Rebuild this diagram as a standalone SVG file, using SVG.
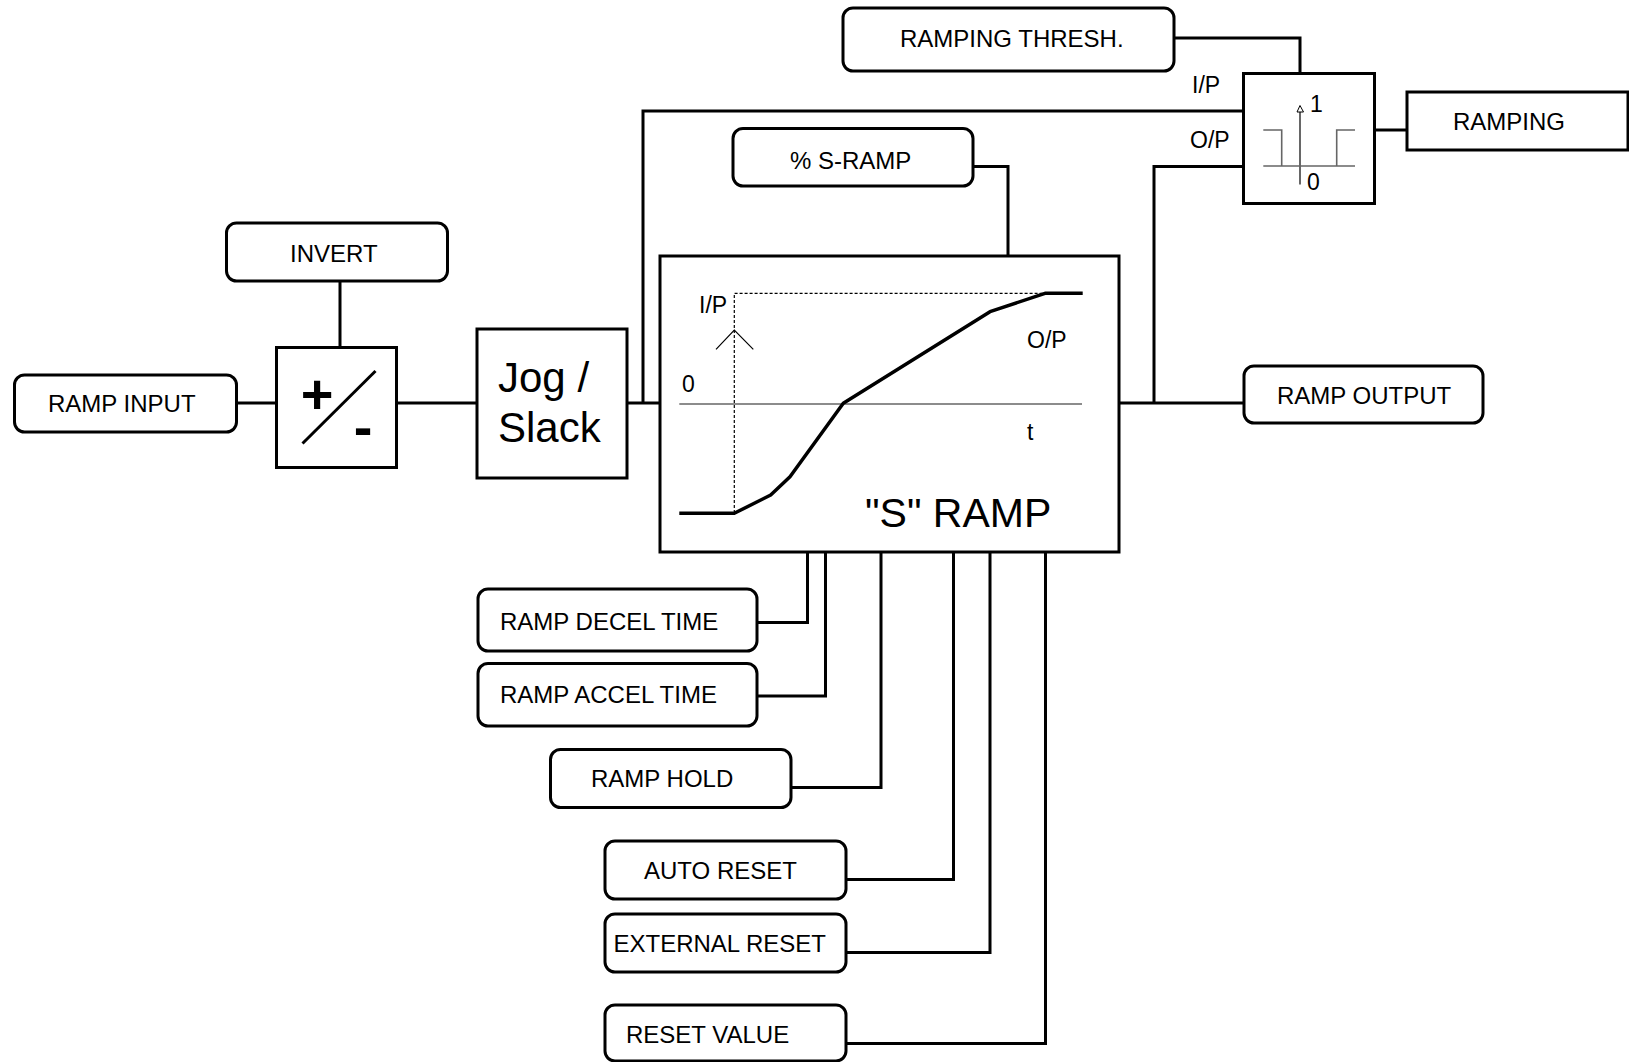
<svg xmlns="http://www.w3.org/2000/svg" width="1629" height="1062" viewBox="0 0 1629 1062">
<style>
.box{fill:#fff;stroke:#000;stroke-width:3}
.rbox{fill:#fff;stroke:#000;stroke-width:3}
.lbl{font-family:"Liberation Sans",Arial,sans-serif;font-size:24px;fill:#000}
.sm{font-family:"Liberation Sans",Arial,sans-serif;font-size:23px;fill:#000}
.big{font-family:"Liberation Sans",Arial,sans-serif;font-size:42px;fill:#000}
.conn{fill:none;stroke:#000;stroke-width:3}
.thin{fill:none;stroke:#000;stroke-width:1.2}
.gray{fill:none;stroke:#666;stroke-width:1.6}
.dot{fill:none;stroke:#000;stroke-width:1.2;stroke-dasharray:3 2}
.curve{fill:none;stroke:#000;stroke-width:3.5;stroke-linejoin:round}
</style>
<rect width="1629" height="1062" fill="#fff"/>
<g id="connectors">
<path class="conn" d="M237,403 H276"/>
<path class="conn" d="M340,282 V347"/>
<path class="conn" d="M397,403 H477"/>
<path class="conn" d="M627,403 H660"/>
<path class="conn" d="M643,403 V111 H1299"/>
<path class="conn" d="M1174,38 H1300 V73"/>
<path class="conn" d="M973,166.5 H1008 V256"/>
<path class="conn" d="M1119,403 H1244"/>
<path class="conn" d="M1154,403 V166.5 H1244"/>
<path class="conn" d="M1375,130 H1407"/>
<path class="conn" d="M757,622.5 H807.5 V552"/>
<path class="conn" d="M757,696 H825.5 V552"/>
<path class="conn" d="M791,787.5 H881 V552"/>
<path class="conn" d="M846,879.5 H953.5 V552"/>
<path class="conn" d="M846,952.5 H990 V552"/>
<path class="conn" d="M846,1043.5 H1045.5 V552"/>
</g>
<g id="ramp-input">
<rect class="rbox" x="14.5" y="375" width="222" height="57" rx="10"/>
<text class="lbl" x="48" y="412">RAMP INPUT</text>
</g>
<g id="invert">
<rect class="rbox" x="226.5" y="223" width="221" height="58" rx="10"/>
<text class="lbl" x="290" y="261.5">INVERT</text>
</g>
<g id="sign">
<rect class="box" x="276.5" y="347.5" width="120" height="120"/>
<text x="317" y="413" text-anchor="middle" style="font-family:'Liberation Sans',Arial,sans-serif;font-size:56px;font-weight:bold">+</text>
<text x="363" y="446" text-anchor="middle" style="font-family:'Liberation Sans',Arial,sans-serif;font-size:56px;font-weight:bold">-</text>
<path d="M302.5,443.5 L375.5,371" stroke="#000" stroke-width="3" fill="none"/>
</g>
<g id="jog-slack">
<rect class="box" x="477" y="329" width="150" height="149"/>
<text class="big" x="498" y="392">Jog /</text>
<text class="big" x="498" y="442">Slack</text>
</g>
<g id="s-ramp">
<rect class="box" x="660" y="256" width="459" height="296"/>
<path class="dot" d="M734.3,513 V293.3 H1045"/>
<path class="thin" d="M716,349.3 L734.3,330 L753.3,349.3"/>
<path class="gray" d="M679.3,404 H1082"/>
<path class="curve" d="M679.3,513.3 L734.3,513.3 L770.7,495 L790,476.7 L843.3,403.3 L990,311.7 L1045,293.3 L1082.7,293.3"/>
<text class="sm" x="699" y="312.5">I/P</text>
<text class="sm" x="1027" y="348">O/P</text>
<text class="sm" x="682" y="392">0</text>
<text class="sm" x="1027" y="440">t</text>
<text style="font-family:'Liberation Sans',Arial,sans-serif;font-size:41px" x="865" y="526.5">"S" RAMP</text>
</g>
<g id="s-ramp-pct">
<rect class="rbox" x="733" y="128.5" width="240" height="57.5" rx="10"/>
<text class="lbl" x="790" y="169">% S-RAMP</text>
</g>
<g id="ramping-thresh">
<rect class="rbox" x="843" y="8" width="331" height="63" rx="10"/>
<text class="lbl" x="900" y="46.5">RAMPING THRESH.</text>
</g>
<g id="comparator">
<rect class="box" x="1243.5" y="73.5" width="131" height="130"/>
<text class="sm" x="1192" y="93">I/P</text>
<text class="sm" x="1190" y="148">O/P</text>
<path class="thin" d="M1300,112 V184.5"/>
<polygon points="1300,105.5 1297,112 1303.5,112" fill="#fff" stroke="#000" stroke-width="1"/>
<path class="gray" d="M1263.3,130 H1281.7 V166 M1263.3,166 H1355 M1336.7,166 V130 H1355"/>
<text class="sm" x="1310" y="112">1</text>
<text class="sm" x="1307" y="190">0</text>
</g>
<g id="ramping">
<rect class="box" x="1407" y="92" width="221" height="58"/>
<text class="lbl" x="1453" y="130">RAMPING</text>
</g>
<g id="ramp-output">
<rect class="rbox" x="1244" y="366" width="239" height="57" rx="10"/>
<text class="lbl" x="1277" y="403.5">RAMP OUTPUT</text>
</g>
<g id="ramp-decel-time">
<rect class="rbox" x="478" y="589" width="279" height="62" rx="10"/>
<text class="lbl" x="500" y="630">RAMP DECEL TIME</text>
</g>
<g id="ramp-accel-time">
<rect class="rbox" x="478" y="663.5" width="279" height="62.5" rx="10"/>
<text class="lbl" x="500" y="703">RAMP ACCEL TIME</text>
</g>
<g id="ramp-hold">
<rect class="rbox" x="550.5" y="749.5" width="240.5" height="58" rx="10"/>
<text class="lbl" x="591" y="787">RAMP HOLD</text>
</g>
<g id="auto-reset">
<rect class="rbox" x="605" y="841" width="241" height="58" rx="10"/>
<text class="lbl" x="644" y="878.5">AUTO RESET</text>
</g>
<g id="external-reset">
<rect class="rbox" x="605" y="914" width="241" height="58" rx="10"/>
<text class="lbl" x="613.5" y="951.5">EXTERNAL RESET</text>
</g>
<g id="reset-value">
<rect class="rbox" x="605" y="1005" width="241" height="56" rx="10"/>
<text class="lbl" x="626" y="1042.5">RESET VALUE</text>
</g>
</svg>
